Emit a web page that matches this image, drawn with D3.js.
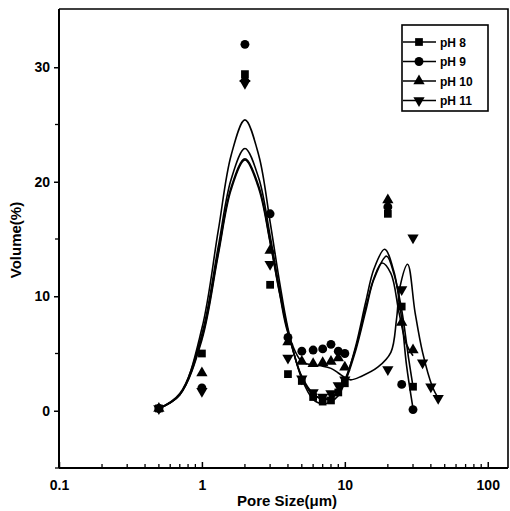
<!DOCTYPE html>
<html><head><meta charset="utf-8">
<script src="https://cdn.jsdelivr.net/npm/d3@7"></script>
<style>body{margin:0;background:#fff}</style></head>
<body><svg id="c" width="510" height="511"></svg>
<script>
// ---- data ----
const seriesNames = ["pH 8", "pH 9", "pH 10", "pH 11"];
const ph8X  = [0.5, 1, 2, 3, 4, 5, 6, 7, 8, 9, 10, 20, 25, 30];
const ph8Y  = [0.2, 5.0, 29.4, 11.0, 3.2, 2.6, 1.2, 0.8, 0.9, 1.6, 2.4, 17.2, 9.1, 2.1];
const ph9X  = [0.5, 1, 2, 3, 4, 5, 6, 7, 8, 9, 10, 20, 25, 30];
const ph9Y  = [0.2, 2.0, 32.0, 17.2, 6.4, 5.2, 5.3, 5.4, 5.8, 5.2, 5.0, 17.8, 2.3, 0.1];
const ph10X = [0.5, 1, 2, 3, 4, 5, 6, 7, 8, 9, 10, 20, 25, 30];
const ph10Y = [0.2, 3.3, 29.0, 14.0, 6.0, 4.3, 4.1, 4.2, 4.3, 4.6, 3.8, 18.4, 7.7, 5.3];
const ph11X = [0.5, 1, 2, 3, 4, 5, 6, 7, 8, 9, 10, 20, 25, 30, 35, 40, 45];
const ph11Y = [0.2, 1.7, 28.6, 12.8, 4.6, 2.8, 1.6, 1.2, 1.5, 2.2, 2.7, 3.6, 10.6, 15.1, 4.2, 2.1, 1.1];

// fitted curves
const fit8X  = [0.5, 0.7, 1, 1.3, 1.6, 2, 2.5, 3, 3.5, 4, 5, 6, 7, 8, 9, 10, 12, 14, 16, 19.6, 22, 25, 28, 30];
const fit8Y  = [0.2, 1.4, 6.4, 13.8, 19.5, 22.0, 19.6, 14.8, 10.3, 6.9, 3.0, 1.5, 1.0, 1.1, 1.6, 2.5, 5.4, 8.7, 11.5, 13.5, 12.0, 8.8, 4.5, 2.1];
const fit9X  = [0.5, 0.7, 1, 1.3, 1.6, 2, 2.5, 3, 3.5, 4, 5, 6, 7, 8, 9, 10, 12, 14, 16, 19, 22, 25, 27, 30];
const fit9Y  = [0.2, 1.4, 7.2, 15.7, 22.3, 25.4, 22.3, 16.5, 11.2, 7.2, 2.8, 1.0, 0.6, 0.8, 1.3, 2.5, 5.8, 9.5, 12.4, 14.1, 12.2, 8.0, 4.0, 0.2];
const fit10X = [0.5, 0.7, 1, 1.3, 1.6, 2, 2.5, 3, 3.5, 4, 5, 6, 7, 8, 9, 10, 12, 14, 16, 18.2, 21, 24, 27, 30];
const fit10Y = [0.2, 1.5, 6.7, 14.3, 20.2, 22.9, 20.3, 15.3, 10.6, 7.0, 2.9, 1.4, 1.1, 1.2, 1.7, 2.7, 5.6, 9.0, 11.6, 12.9, 12.0, 8.5, 5.8, 4.8];
const fit11X = [0.5, 0.7, 1, 1.3, 1.6, 2, 2.5, 3, 3.5, 4, 5, 6, 7, 8, 9, 10, 11, 13, 17, 21, 23, 24.3, 27.5, 31, 35, 41, 45];
const fit11Y = [0.2, 1.4, 6.2, 13.6, 19.3, 21.9, 19.4, 14.7, 10.2, 6.8, 4.3, 4.0, 3.9, 3.7, 3.3, 2.9, 2.7, 3.0, 3.8, 5.1, 8.0, 10.8, 12.8, 8.6, 5.1, 2.1, 1.1];

const xTickValues = [0.1, 1, 10, 100];
const yTickValues = [0, 10, 20, 30];

// ---- chart ----
const svg = d3.select("#c");
const x = d3.scaleLog().domain([0.1, 138.6]).range([59, 508]);
const y = d3.scaleLinear().domain([-5, 35]).range([468, 10]);
const font = "'Liberation Sans', Arial, sans-serif";

const series = [
  {name: seriesNames[0], px: ph8X, py: ph8Y, fx: fit8X, fy: fit8Y, sym: d3.symbolSquare, size: 60, rot: 0},
  {name: seriesNames[1], px: ph9X, py: ph9Y, fx: fit9X, fy: fit9Y, sym: d3.symbolCircle, size: 62, rot: 0},
  {name: seriesNames[2], px: ph10X, py: ph10Y, fx: fit10X, fy: fit10Y, sym: d3.symbolTriangle, size: 55, rot: 0},
  {name: seriesNames[3], px: ph11X, py: ph11Y, fx: fit11X, fy: fit11Y, sym: d3.symbolTriangle, size: 55, rot: 180}
];

const line = d3.line().x(d => x(d[0])).y(d => y(d[1])).curve(d3.curveCatmullRom.alpha(0.5));

series.forEach(s => {
  svg.append("path")
    .datum(d3.zip(s.fx, s.fy))
    .attr("d", line)
    .attr("fill", "none").attr("stroke", "#000").attr("stroke-width", 1.6);
});

series.forEach(s => {
  svg.append("g").selectAll("path")
    .data(d3.zip(s.px, s.py))
    .join("path")
    .attr("d", d3.symbol().type(s.sym).size(s.size))
    .attr("transform", d => `translate(${x(d[0])},${y(d[1])}) rotate(${s.rot})`)
    .attr("fill", "#000");
});

// axes
const xAxis = d3.axisBottom(x).tickValues(xTickValues).tickSize(-6).tickFormat(d => d3.format("~g")(d));
const gx = svg.append("g").attr("transform", "translate(0,468)").call(xAxis);
gx.select(".domain").attr("stroke-width", 2).attr("d", "M59,0H508");
gx.selectAll(".tick line").attr("stroke-width", 1.5);
gx.selectAll(".tick text").attr("y", 12).attr("font-size", 14).attr("font-weight", "bold").attr("font-family", font).attr("fill", "#000");
// minor x ticks
const minorX = [];
[0.1, 1, 10].forEach(b => { for (let k = 2; k <= 9; k++) minorX.push(b * k); });
svg.append("g").selectAll("line").data(minorX).join("line")
  .attr("x1", d => x(d)).attr("x2", d => x(d)).attr("y1", 468).attr("y2", 464)
  .attr("stroke", "#000").attr("stroke-width", 1.3);

const yAxis = d3.axisLeft(y).tickValues(yTickValues).tickSize(5);
const gy = svg.append("g").attr("transform", "translate(59,0)").call(yAxis);
gy.select(".domain").attr("stroke-width", 2).attr("d", "M0,468V9");
gy.selectAll(".tick line").attr("stroke-width", 1.5);
gy.selectAll(".tick text").attr("x", -9).attr("font-size", 14).attr("font-weight", "bold").attr("font-family", font).attr("fill", "#000");
svg.append("g").selectAll("line").data([-5, 5, 15, 25]).join("line")
  .attr("x1", 59).attr("x2", 55).attr("y1", d => y(d)).attr("y2", d => y(d))
  .attr("stroke", "#000").attr("stroke-width", 1.3);

// top and right frame
svg.append("path").attr("d", "M59,9H508V468").attr("fill", "none").attr("stroke", "#000").attr("stroke-width", 1.6);

// axis titles
svg.append("text").attr("x", 287).attr("y", 506).attr("text-anchor", "middle")
  .attr("font-size", 15).attr("font-weight", "bold").attr("font-family", font).text("Pore Size(μm)");
svg.append("text").attr("transform", "translate(21,240) rotate(-90)").attr("text-anchor", "middle")
  .attr("font-size", 15).attr("font-weight", "bold").attr("font-family", font).text("Volume(%)");

// legend
const lg = svg.append("g");
lg.append("rect").attr("x", 402).attr("y", 25).attr("width", 86).attr("height", 86)
  .attr("fill", "#fff").attr("stroke", "#000").attr("stroke-width", 1.6);
series.forEach((s, i) => {
  const ly = 42 + i * 19.5;
  lg.append("line").attr("x1", 403).attr("x2", 436).attr("y1", ly).attr("y2", ly).attr("stroke", "#000").attr("stroke-width", 1.5);
  lg.append("path").attr("d", d3.symbol().type(s.sym).size(s.size)).attr("transform", `translate(419,${ly}) rotate(${s.rot})`).attr("fill", "#000");
  lg.append("text").attr("x", 440).attr("y", ly + 4.5).attr("font-size", 12).attr("font-weight", "bold").attr("font-family", font).text(s.name);
});
</script></body></html>
